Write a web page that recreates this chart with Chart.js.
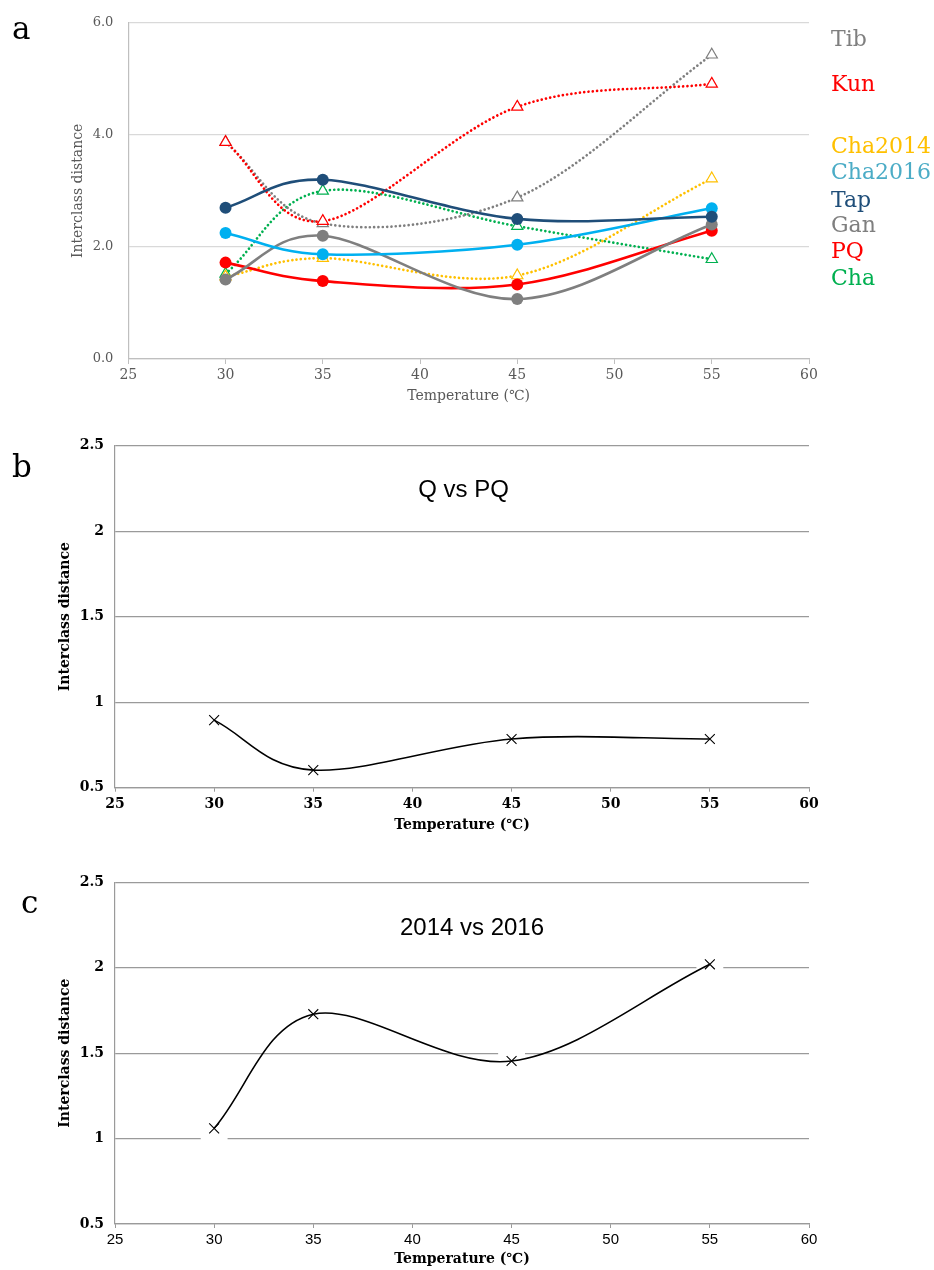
<!DOCTYPE html>
<html><head><meta charset="utf-8">
<script src="https://cdn.jsdelivr.net/npm/chart.js@4.4.1/dist/chart.umd.min.js"></script>
<style>
html,body{margin:0;padding:0;background:#fff;}
body{width:934px;height:1270px;position:relative;overflow:hidden;font-family:"DejaVu Serif",serif;}
canvas{position:absolute;left:0;}
.lab{position:absolute;white-space:nowrap;line-height:1;transform:translateY(-50%);}
</style></head><body>
<canvas id="ca" width="934" height="410" style="top:0px"></canvas>
<canvas id="cb" width="934" height="420" style="top:420px"></canvas>
<canvas id="cc" width="934" height="410" style="top:860px"></canvas>
<div id="overlay"></div>
<script>
// ---- data ----
const temperatures = [30, 35, 45, 55];
const xTicks = [25, 30, 35, 40, 45, 50, 55, 60];
const yTicksA = [0, 2, 4, 6];
const yTicksBC = [0.5, 1, 1.5, 2, 2.5];

const tap     = [2.70, 3.20, 2.50, 2.54];
const cha2016 = [2.25, 1.87, 2.04, 2.69];
const gan     = [1.42, 2.20, 1.07, 2.40];
const pq      = [1.72, 1.39, 1.33, 2.29];
const kun     = [3.87, 2.46, 4.50, 4.91];
const tib     = [3.87, 2.42, 2.88, 5.43];
const cha2014 = [1.47, 1.80, 1.49, 3.22];
const cha     = [1.52, 3.00, 2.37, 1.78];

const qVsPq       = [0.895, 0.603, 0.785, 0.785];
const y2014vs2016 = [1.06, 1.728, 1.454, 2.02];

const legendNames = ['Tib', 'Kun', 'Cha2014', 'Cha2016', 'Tap', 'Gan', 'PQ', 'Cha'];
const titleB = 'Q vs PQ';
const titleC = '2014 vs 2016';
const yTitle = 'Interclass distance';
const xTitle = 'Temperature (℃)';

// ---- styling ----
const C = {
  tap:'#1f4e79', cha2016:'#00b0f0', gan:'#7f7f7f', pq:'#ff0000',
  kun:'#ff0000', tib:'#7f7f7f', cha2014:'#ffc000', cha:'#00b050'
};
const legendColors = ['#7f7f7f','#ff0000','#ffc000','#4bacc6','#1f4e79','#7f7f7f','#ff0000','#00b050'];
const legendTops = [38, 83, 145, 171, 199, 224, 250, 277];

function pts(arr){ return temperatures.map((t,i)=>({x:t, y:arr[i]})); }
function fixedTicks(list){ return s => { s.ticks = list.map(v=>({value:v})); }; }

// Spreadsheet-style smoothing: recompute the bezier control points of the
// library's own point elements (already placed by the scales).
const smoothPlugin = {
  id: 'sheetSmooth',
  beforeDatasetDraw(chart, args) {
    const meta = args.meta;
    if (!meta.dataset || meta.type !== 'line') return;
    const p = meta.data;
    const n = p.length;
    if (n < 2) return;
    for (let i = 0; i < n - 1; i++) {
      const P1 = p[i], P2 = p[i + 1];
      const P0 = i > 0 ? p[i - 1] : P1;
      const P3 = i + 2 < n ? p[i + 2] : P2;
      const f0 = i > 0 ? 1 / 6 : 1 / 3;
      const f1 = i + 2 < n ? 1 / 6 : 1 / 3;
      const d12 = Math.hypot(P2.x - P1.x, P2.y - P1.y);
      let ax = f0 * (P2.x - P0.x), ay = f0 * (P2.y - P0.y);
      let bx = f1 * (P3.x - P1.x), by = f1 * (P3.y - P1.y);
      const la = Math.hypot(ax, ay), lb = Math.hypot(bx, by);
      if (la > d12 / 2 && la > 0) { ax *= d12 / 2 / la; ay *= d12 / 2 / la; }
      if (lb > d12 / 2 && lb > 0) { bx *= d12 / 2 / lb; by *= d12 / 2 / lb; }
      P1.cp2x = P1.x + ax; P1.cp2y = P1.y + ay;
      P2.cp1x = P2.x - bx; P2.cp1y = P2.y - by;
    }
    p[0].cp1x = p[0].x; p[0].cp1y = p[0].y;
    p[n - 1].cp2x = p[n - 1].x; p[n - 1].cp2y = p[n - 1].y;
    meta.dataset._pointsUpdated = true;
    meta.dataset._path = undefined;
  }
};
Chart.register(smoothPlugin);

function solid(label, arr, color){
  return {label, data: pts(arr), borderColor: color, backgroundColor: color,
    borderWidth: 2.6, tension: 0.4, pointStyle: 'circle', pointRadius: 6,
    pointBackgroundColor: color, pointBorderColor: color, pointBorderWidth: 0};
}
function dotted(label, arr, color){
  return {label, data: pts(arr), borderColor: color, backgroundColor: '#ffffff',
    borderWidth: 2.7, borderDash: [0.01, 4.3], borderCapStyle: 'round', tension: 0.4,
    pointStyle: 'triangle', pointRadius: 6.5, pointBackgroundColor: '#ffffff',
    pointBorderColor: color, pointBorderWidth: 1.2};
}

Chart.defaults.animation = false;
Chart.defaults.plugins.legend.display = false;
Chart.defaults.plugins.tooltip.enabled = false;

// ---- panel a ----
new Chart(document.getElementById('ca'), {
  type: 'line',
  data: { datasets: [
    solid('Tap', tap, C.tap),
    solid('Cha2016', cha2016, C.cha2016),
    solid('Gan', gan, C.gan),
    solid('PQ', pq, C.pq),
    dotted('Kun', kun, C.kun),
    dotted('Tib', tib, C.tib),
    dotted('Cha2014', cha2014, C.cha2014),
    dotted('Cha', cha, C.cha)
  ]},
  options: {
    responsive: false,
    layout: { padding: { top: 21.5, right: 125, left: 0, bottom: 0 } },
    scales: {
      x: { type: 'linear', min: 25, max: 60, afterBuildTicks: fixedTicks(xTicks),
        ticks: { color: '#595959', font: { family: 'DejaVu Serif', size: 14 }, padding: 3, maxRotation: 0, autoSkip: false },
        grid: { drawOnChartArea: false, drawTicks: true, tickLength: 5, color: '#bfbfbf' },
        border: { display: true, color: '#bfbfbf', width: 1.2 },
        title: { display: true, text: xTitle, color: '#595959', font: { family: 'DejaVu Serif', size: 14, lineHeight: 1.2 }, padding: { top: 0, bottom: 5 } },
        afterFit: s => { s.height = 51; } },
      y: { min: 0, max: 6, afterBuildTicks: fixedTicks(yTicksA),
        ticks: { color: '#595959', font: { family: 'DejaVu Serif', size: 13 }, padding: 15, callback: v => Number(v).toFixed(1) },
        grid: { color: '#d9d9d9', drawTicks: false, lineWidth: 1.2 },
        border: { display: true, color: '#bfbfbf', width: 1.2 },
        title: { display: true, text: yTitle, color: '#595959', font: { family: 'DejaVu Serif', size: 14, lineHeight: 1.2 }, padding: { top: 70, bottom: 0 } },
        afterFit: s => { s.width = 128.3; } }
    }
  }
});

// ---- panels b & c ----
function smallChart(id, arr, topPad, xH, xTickFont, xTickPad, halo){
  const datasets = [{
    label: 'main', data: pts(arr), borderColor: '#000', borderWidth: 1.6, tension: 0.4,
    pointStyle: 'crossRot', pointRadius: 7, pointBorderColor: '#000', pointBorderWidth: 1.1,
    backgroundColor: '#000', order: 1
  }];
  if (halo) datasets.push({
    label: 'halo', data: pts(arr), showLine: false, pointStyle: 'rect', pointRadius: 19,
    pointBackgroundColor: '#ffffff', pointBorderWidth: 0, order: 2
  });
  return new Chart(document.getElementById(id), {
    type: 'line',
    data: { datasets },
    options: {
      responsive: false,
      layout: { padding: { top: topPad, right: 125, left: 0, bottom: 0 } },
      scales: {
        x: { type: 'linear', min: 25, max: 60, afterBuildTicks: fixedTicks(xTicks),
          ticks: { color: '#000', font: xTickFont, padding: xTickPad, maxRotation: 0, autoSkip: false },
          grid: { drawOnChartArea: false, drawTicks: true, tickLength: 4, color: '#9a9a9a' },
          border: { display: true, color: '#9a9a9a', width: 1.2 },
          title: { display: true, text: xTitle, color: '#000', font: { family: 'DejaVu Serif', size: 14, weight: 'bold', lineHeight: 1.2 }, padding: { top: 0, bottom: id === 'cb' ? 6 : 2 } },
          afterFit: s => { s.height = xH; } },
        y: { min: 0.5, max: 2.5, afterBuildTicks: fixedTicks(yTicksBC),
          ticks: { color: '#000', font: { family: 'DejaVu Serif', size: 14, weight: 'bold' }, padding: 11, callback: v => String(v) },
          grid: { color: '#9a9a9a', drawTicks: false, lineWidth: 1.2 },
          border: { display: true, color: '#9a9a9a', width: 1.2 },
          title: { display: true, text: yTitle, color: '#000', font: { family: 'DejaVu Serif', size: 14, weight: 'bold', lineHeight: 1.2 }, padding: { top: 57, bottom: 0 } },
          afterFit: s => { s.width = 115; } }
      }
    }
  });
}
smallChart('cb', qVsPq, 25.7, 52.3, { family: 'DejaVu Serif', size: 14, weight: 'bold' }, 4, false);
smallChart('cc', y2014vs2016, 22.3, 46, { family: 'Liberation Sans', size: 15 }, 3, true);

// ---- text overlays ----
const ov = document.getElementById('overlay');
function addText(txt, css){
  const d = document.createElement('div');
  d.className = 'lab'; d.textContent = txt; d.style.cssText += css; ov.appendChild(d); return d;
}
legendNames.forEach((n,i)=> addText(n, `left:831px;top:${legendTops[i]}px;color:${legendColors[i]};font:22px "DejaVu Serif";`));
addText('a', 'left:12px;top:28px;font:31px "DejaVu Serif";color:#000;');
addText('b', 'left:12px;top:466px;font:31px "DejaVu Serif";color:#000;');
addText('c', 'left:21px;top:902px;font:31px "DejaVu Serif";color:#000;');
const tb = addText(titleB, 'left:463.5px;top:489px;font:24px "Liberation Sans";color:#000;');
tb.style.transform = 'translate(-50%,-50%)';
const tc = addText(titleC, 'left:472px;top:927px;font:24px "Liberation Sans";color:#000;');
tc.style.transform = 'translate(-50%,-50%)';
</script>
</body></html>
